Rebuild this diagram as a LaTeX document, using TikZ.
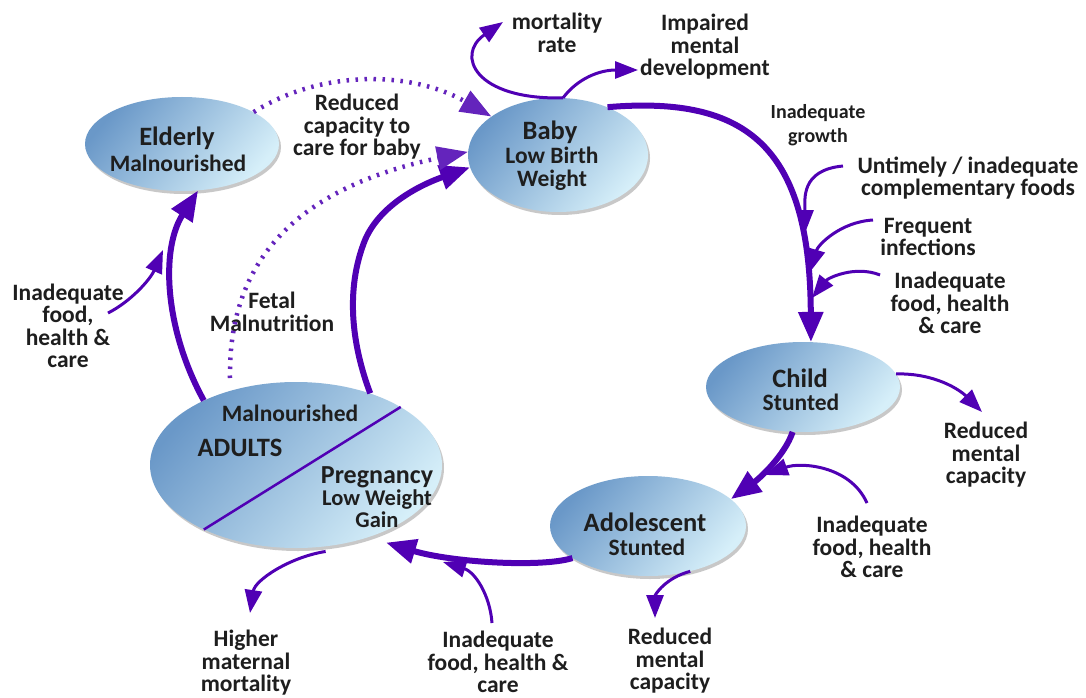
\documentclass[tikz,border=0pt]{standalone}
\usepackage{fontspec}
\setmainfont{Carlito}
\usetikzlibrary{arrows.meta,shapes.geometric,shadows}
\definecolor{arrowc}{HTML}{5000B4}
\definecolor{dotc}{HTML}{6424BC}
\definecolor{txt}{HTML}{1E1E1E}
\definecolor{elldark}{HTML}{6A98C8}
\definecolor{ellmid}{HTML}{A9CDE8}
\definecolor{elllight}{HTML}{D6EFF9}
\tikzset{
  stage/.style={ellipse, inner sep=0pt, top color=elldark, middle color=ellmid, bottom color=elllight, shading angle=50,
    drop shadow={shadow xshift=2pt, shadow yshift=-3pt, opacity=0.3, fill=black!70}},
  thickarr/.style={line width=6pt, draw=arrowc, -{Triangle[length=30pt,width=24pt]}},
  thinarr/.style={line width=3pt, draw=arrowc, -{Triangle[length=23pt,width=17pt]}},
  dotarr/.style={line width=4.5pt, draw=dotc, dash pattern=on 2.5pt off 6.5pt, -{Triangle[length=31pt,width=23pt]}},
  lbl/.style={font=\bfseries\fontsize{23.5}{22.5}\selectfont, text=txt, align=center, inner sep=0pt},
  smalllbl/.style={font=\bfseries\fontsize{20}{24}\selectfont, text=txt, align=center, inner sep=0pt},
  ttl/.style={font=\bfseries\fontsize{26.5}{26}\selectfont, text=txt, inner sep=0pt},
  sub/.style={font=\bfseries\fontsize{23.5}{23}\selectfont, text=txt, align=center, inner sep=0pt},
}
\begin{document}
\begin{tikzpicture}[x=1pt,y=-1pt]
\useasboundingbox[fill=white] (0,0) rectangle (1086,698);
% stages
\node[stage, minimum width=194pt, minimum height=94pt] (elderly) at (182,144) {};
\node[stage, minimum width=180pt, minimum height=114pt] (baby) at (558,155) {};
\node[stage, minimum width=194pt, minimum height=90pt] (child) at (803,387) {};
\node[stage, minimum width=196pt, minimum height=100pt] (adol) at (648,526) {};
\node[stage, minimum width=292pt, minimum height=166pt] (adults) at (296,465) {};
\draw[arrowc, line width=2.5pt] (adults.29) -- (adults.215.5);
% stage texts
\node[ttl] (t1) at (177,138) {Elderly};
\node[sub] (t2) at (178,163) {Malnourished};
\node[ttl] (t3) at (550,132) {Baby};
\node[sub] (t4) at (552,168.5) {Low Birth\\Weight};
\node[ttl] (t6) at (800,378) {Child};
\node[sub] (t7) at (801,402) {Stunted};
\node[ttl] (t8) at (645,522) {Adolescent};
\node[sub] (t9) at (647,547) {Stunted};
\node[sub] (t10) at (290,413) {Malnourished};
\node[ttl] (t11) at (240,448) {ADULTS};
\node[sub, font=\bfseries\fontsize{22.5}{22}\selectfont] (t12) at (377,497)
  {{\fontsize{26}{22}\selectfont Pregnancy}\\Low Weight\\Gain};
% labels
\node[lbl] (mort) at (557,33) {mortality\\rate};
\node[lbl] (impaired) at (705,47) {Impaired\\mental\\development};
\node[smalllbl] (growth) at (818,125) {Inadequate\\growth};
\node[lbl] (untimely) at (968,178) {Untimely / inadequate\\complementary foods};
\node[lbl] (freq) at (928,237) {Frequent\\infections};
\node[lbl] (inadR) at (950,303) {Inadequate\\food, health\\\& care};
\node[lbl] (redR) at (986,455) {Reduced\\mental\\capacity};
\node[lbl] (inadR2) at (872,547) {Inadequate\\food, health\\\& care};
\node[lbl] (redB) at (670,661) {Reduced\\mental\\capacity};
\node[lbl] (inadB) at (498,662) {Inadequate\\food, health \&\\care};
\node[lbl] (higher) at (246,663) {Higher\\maternal\\mortality};
\node[lbl] (inadL) at (68,326) {Inadequate\\food,\\health \&\\care};
\node[lbl] (fetal) at (272,312) {Fetal\\Malnutrition};
\node[lbl] (reduced) at (357,127) {Reduced\\capacity to\\care for baby};
% free ends
\coordinate (lS) at (108,313);   \coordinate (lT) at (163,250);
\coordinate (uS) at (843,166);   \coordinate (uT) at (805,233);
\coordinate (fS) at (873,220);   \coordinate (fT) at (810,272);
\coordinate (iS) at (880,275);   \coordinate (iT) at (812,298);
\coordinate (rS) at (867,503);   \coordinate (rT) at (765,475);
\coordinate (bS) at (492,623);   \coordinate (bT) at (443,562);
\coordinate (mT) at (503,22);    \coordinate (dT) at (638,70);
\coordinate (cT) at (982,412);   \coordinate (aT) at (655,618);
\coordinate (hT) at (250,613);   \coordinate (fetS) at (230,378);
% main cycle
\draw[thickarr] (baby.44) .. controls (750,95) and (810,150) .. (child.80);
\draw[thickarr] (child.257) .. controls (785,455) and (760,478) .. (adol.18);
\draw[thickarr] (adol.203) .. controls (540,568) and (450,562) .. ([xshift=10pt,yshift=-8pt]adults.319);
\draw[thickarr] (adults.44) .. controls (352,345) and (345,290) .. (365,240) .. controls (380,205) and (420,185) .. (baby.188);
\draw[thickarr] (adults.145) .. controls (165,330) and (160,250) .. (elderly.289);
% dotted
\draw[dotarr] (elderly.24) .. controls (320,70) and (410,70) .. (baby.150);
\draw[dotarr] (fetS) .. controls (228,250) and (310,185) .. (baby.178);
% thin
\draw[thinarr] (lS) .. controls (130,302) and (150,280) .. (lT);
\draw[thinarr] (baby.85) .. controls (475,100) and (455,55) .. (mT);
\draw[thinarr] (baby.85) .. controls (578,78) and (600,70) .. (dT);
\draw[thinarr] (uS) .. controls (800,170) and (805,200) .. (uT);
\draw[thinarr] (fS) .. controls (840,222) and (818,245) .. (fT);
\draw[thinarr] (iS) .. controls (855,265) and (828,278) .. (iT);
\draw[thinarr] (child.8) .. controls (935,373) and (960,390) .. (cT);
\draw[thinarr] (rS) .. controls (850,465) and (800,462) .. (rT);
\draw[thinarr] (adol.313) .. controls (665,578) and (655,595) .. (aT);
\draw[thinarr] ([yshift=-5pt]adults.290) .. controls (290,557) and (255,580) .. (hT);
\draw[thinarr] (bS) .. controls (490,595) and (475,572) .. (bT);
\end{tikzpicture}
\end{document}
